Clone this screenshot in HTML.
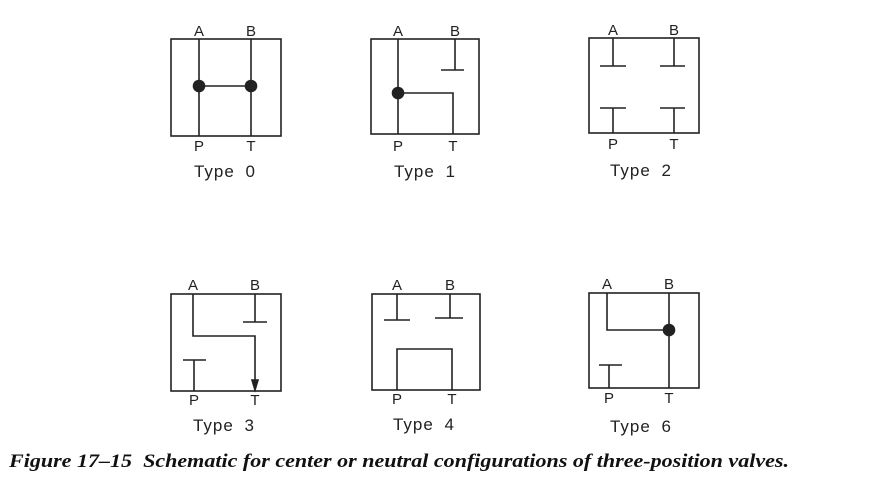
<!DOCTYPE html>
<html><head><meta charset="utf-8"><style>
html,body{margin:0;padding:0;background:#fff;width:878px;height:498px;overflow:hidden}
svg text{font-family:"Liberation Sans",sans-serif;fill:#222}
.cap{position:absolute;left:9px;top:451px;font-family:"Liberation Serif",serif;font-weight:bold;font-style:italic;font-size:19px;color:#111;white-space:nowrap;transform-origin:0 0;transform:scaleX(1.16)}
</style></head><body>
<svg width="878" height="498" style="position:absolute;left:0;top:0">
<g stroke="#222" stroke-width="1.6" fill="none">
 <g>
  <rect x="171" y="39" width="110" height="97"/>
  <line x1="199" y1="39" x2="199" y2="136"/><line x1="251" y1="39" x2="251" y2="136"/>
  <line x1="199" y1="86" x2="251" y2="86"/>
  <circle cx="199" cy="86" r="5.5" fill="#222"/><circle cx="251" cy="86" r="5.5" fill="#222"/>
 </g>
 <g>
  <rect x="371" y="39" width="108" height="95"/>
  <line x1="398" y1="39" x2="398" y2="134"/>
  <line x1="455" y1="39" x2="455" y2="70"/><line x1="441" y1="70" x2="464" y2="70"/>
  <polyline points="398,93 453,93 453,134"/>
  <circle cx="398" cy="93" r="5.5" fill="#222"/>
 </g>
 <g>
  <rect x="589" y="38" width="110" height="95"/>
  <line x1="613" y1="38" x2="613" y2="66"/><line x1="600" y1="66" x2="626" y2="66"/>
  <line x1="674" y1="38" x2="674" y2="66"/><line x1="660" y1="66" x2="685" y2="66"/>
  <line x1="613" y1="133" x2="613" y2="108"/><line x1="600" y1="108" x2="626" y2="108"/>
  <line x1="674" y1="133" x2="674" y2="108"/><line x1="660" y1="108" x2="685" y2="108"/>
 </g>
 <g>
  <rect x="171" y="294" width="110" height="97"/>
  <polyline points="193,294 193,336 255,336 255,384"/>
  <polygon points="252,380 258,380 255,390" fill="#222"/>
  <line x1="255" y1="294" x2="255" y2="322"/><line x1="243" y1="322" x2="267" y2="322"/>
  <line x1="194" y1="391" x2="194" y2="360"/><line x1="183" y1="360" x2="206" y2="360"/>
 </g>
 <g>
  <rect x="372" y="294" width="108" height="96"/>
  <line x1="397" y1="294" x2="397" y2="320"/><line x1="384" y1="320" x2="410" y2="320"/>
  <line x1="450" y1="294" x2="450" y2="318"/><line x1="435" y1="318" x2="463" y2="318"/>
  <polyline points="397,390 397,349 452,349 452,390"/>
 </g>
 <g>
  <rect x="589" y="293" width="110" height="95"/>
  <polyline points="607,293 607,330 669,330"/>
  <line x1="669" y1="293" x2="669" y2="388"/>
  <circle cx="669" cy="330" r="5.5" fill="#222"/>
  <line x1="609" y1="388" x2="609" y2="365"/><line x1="599" y1="365" x2="622" y2="365"/>
 </g>
</g>
<g font-size="15" text-anchor="middle">
 <text x="199" y="36">A</text><text x="251" y="36">B</text>
 <text x="199" y="151">P</text><text x="251" y="151">T</text>
 <text x="398" y="36">A</text><text x="455" y="36">B</text>
 <text x="398" y="151">P</text><text x="453" y="151">T</text>
 <text x="613" y="35">A</text><text x="674" y="35">B</text>
 <text x="613" y="149">P</text><text x="674" y="149">T</text>
 <text x="193" y="290">A</text><text x="255" y="290">B</text>
 <text x="194" y="405">P</text><text x="255" y="405">T</text>
 <text x="397" y="290">A</text><text x="450" y="290">B</text>
 <text x="397" y="404">P</text><text x="452" y="404">T</text>
 <text x="607" y="289">A</text><text x="669" y="289">B</text>
 <text x="609" y="403">P</text><text x="669" y="403">T</text>
</g>
<g font-size="17" text-anchor="middle" letter-spacing="1" style="word-spacing:5px">
 <text x="225" y="177">Type 0</text>
 <text x="425" y="177">Type 1</text>
 <text x="641" y="176">Type 2</text>
 <text x="224" y="431">Type 3</text>
 <text x="424" y="430">Type 4</text>
 <text x="641" y="432">Type 6</text>
</g>
</svg>
<div class="cap">Figure 17–15&nbsp; Schematic for center or neutral configurations of three-position valves.</div>
</body></html>
